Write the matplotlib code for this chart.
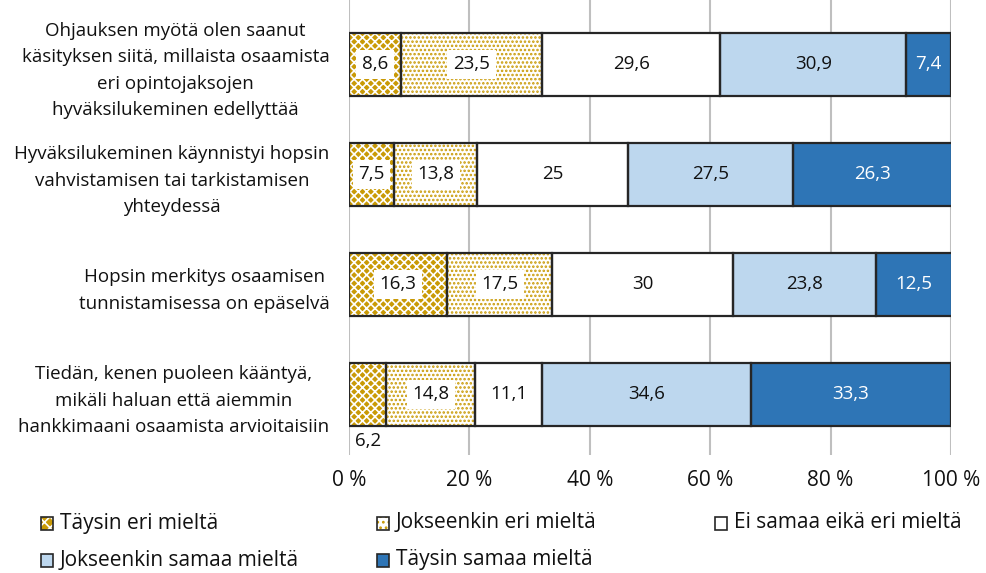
import matplotlib
matplotlib.use("Agg")
import matplotlib.pyplot as plt
from matplotlib.patches import Rectangle
import numpy as np

plt.rcParams['font.family'] = ['Open Sans', 'DejaVu Sans']

categories = [
    "Ohjauksen myötä olen saanut\nkäsityksen siitä, millaista osaamista\neri opintojaksojen\nhyväksilukeminen edellyttää",
    "Hyväksilukeminen käynnistyi hopsin\nvahvistamisen tai tarkistamisen\nyhteydessä",
    "Hopsin merkitys osaamisen\ntunnistamisessa on epäselvä",
    "Tiedän, kenen puoleen kääntyä,\nmikäli haluan että aiemmin\nhankkimaani osaamista arvioitaisiin",
]
series_names = ["Täysin eri mieltä", "Jokseenkin eri mieltä", "Ei samaa eikä eri mieltä",
                "Jokseenkin samaa mieltä", "Täysin samaa mieltä"]
taysin_eri = [8.6, 7.5, 16.3, 6.2]
jokseenkin_eri = [23.5, 13.8, 17.5, 14.8]
ei_samaa = [29.6, 25, 30, 11.1]
jokseenkin_samaa = [30.9, 27.5, 23.8, 34.6]
taysin_samaa = [7.4, 26.3, 12.5, 33.3]
values = [taysin_eri, jokseenkin_eri, ei_samaa, jokseenkin_samaa, taysin_samaa]
xticks = [0, 20, 40, 60, 80, 100]
xticklabels = ["0 %", "20 %", "40 %", "60 %", "80 %", "100 %"]

gold = '#C99A06'
styles = [
    dict(facecolor=gold, hatch='xxxx', hcolor='white'),
    dict(facecolor='white', hatch='....', hcolor=gold),
    dict(facecolor='white', hatch=None, hcolor=None),
    dict(facecolor='#BDD7EE', hatch=None, hcolor=None),
    dict(facecolor='#2E75B6', hatch=None, hcolor=None),
]
text_colors = ['#111111', '#111111', '#111111', '#111111', 'white']
use_box = [True, True, False, False, False]

plt.rcParams['hatch.linewidth'] = 1.2

fig = plt.figure(figsize=(9.87, 5.73), dpi=100)
ax = fig.add_axes([349/987, 1-455/573, 602/987, 455/573])

y = np.arange(len(categories))
h = 0.57
left = np.zeros(len(categories))
for i, (vals, st) in enumerate(zip(values, styles)):
    vals = np.array(vals, dtype=float)
    if st['hatch']:
        ax.barh(y, vals, left=left, height=h, color=st['facecolor'], hatch=st['hatch'],
                edgecolor=st['hcolor'], linewidth=0, zorder=2)
    else:
        ax.barh(y, vals, left=left, height=h, color=st['facecolor'], linewidth=0, zorder=2)
    ax.barh(y, vals, left=left, height=h, facecolor='none', edgecolor='#262626',
            linewidth=1.6, zorder=3)
    for j, v in enumerate(vals):
        s = f"{v:g}".replace('.', ',')
        cx = left[j] + v / 2
        if v < 7:
            ax.text(cx, y[j] + h/2 + 0.14, s, ha='center', va='center', fontsize=13.5,
                    color='#111111', zorder=5)
        else:
            kw = {}
            if use_box[i]:
                kw['bbox'] = dict(facecolor='white', edgecolor='none', pad=4)
            ax.text(cx, y[j], s, ha='center', va='center', fontsize=13.5,
                    color=text_colors[i], zorder=5, **kw)
    left += vals

ax.set_xlim(0, 100)
ax.set_ylim(3.55, -0.586)
ax.set_xticks(xticks)
ax.set_xticklabels(xticklabels, fontsize=15, color='#111111')
ax.set_yticks(y)
ax.set_yticklabels(categories, fontsize=13.5, color='#111111')
for lab in ax.get_yticklabels():
    lab.set_multialignment('center')
    lab.set_linespacing(1.6)
ax.tick_params(axis='both', length=0)
ax.tick_params(axis='x', pad=11)
ax.tick_params(axis='y', pad=14)
ax.grid(axis='x', color='#BFBFBF', linewidth=1.5, zorder=0)
ax.set_axisbelow(True)
for sp in ax.spines.values():
    sp.set_visible(False)

# legend
leg_pos = [(41, 523), (377, 523), (715, 523), (41, 560), (377, 560)]
for (px, py), name, st in zip(leg_pos, series_names, styles):
    fx, fy = px/987, 1 - py/573
    w, hh = 12/987, 13/573
    if st['hatch']:
        fig.patches.append(Rectangle((fx, fy - hh/2), w, hh, transform=fig.transFigure,
                                     facecolor=st['facecolor'], hatch=st['hatch'][:3],
                                     edgecolor=st['hcolor'], linewidth=0))
    else:
        fig.patches.append(Rectangle((fx, fy - hh/2), w, hh, transform=fig.transFigure,
                                     facecolor=st['facecolor'], linewidth=0))
    fig.patches.append(Rectangle((fx, fy - hh/2), w, hh, transform=fig.transFigure,
                                 facecolor='none', edgecolor='#262626', linewidth=1.2))
    fig.text(fx + 19/987, fy, name, ha='left', va='center', fontsize=15, color='#111111')

fig.savefig("out.png", dpi=100)
